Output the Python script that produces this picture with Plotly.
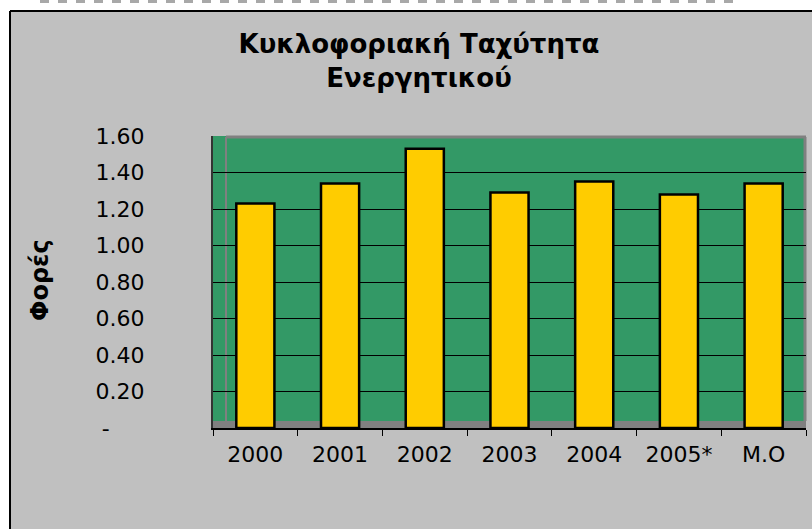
import plotly.graph_objects as go

# ---- data ----
categories = ["2000", "2001", "2002", "2003", "2004", "2005*", "M.O"]
values = [1.23, 1.34, 1.53, 1.29, 1.35, 1.28, 1.34]
y_tick_vals = [0, 0.2, 0.4, 0.6, 0.8, 1.0, 1.2, 1.4, 1.6]
y_tick_text = ["-\u00a0\u00a0\u00a0\u00a0\u00a0", "0.20", "0.40", "0.60", "0.80", "1.00", "1.20", "1.40", "1.60"]
title_text = "Κυκλοφοριακή Ταχύτητα<br>Ενεργητικού"
y_title = "Φορές"

W, H = 812, 529
X0, X1, Y0, Y1 = 213, 806, 136, 428  # plot box in pixels


def px(x):
    return (x - X0) / (X1 - X0)


def py(y):
    return (Y1 - y) / (Y1 - Y0)


FONT = "DejaVu Sans"
GRAY_BG = "#c0c0c0"
GREEN = "#339966"
YELLOW = "#ffcc00"
WALL = "#808080"

fig = go.Figure()
fig.add_trace(go.Bar(
    x=categories, y=values,
    width=0.45,
    marker=dict(color=YELLOW, line=dict(color="black", width=2.5)),
    hoverinfo="x+y",
))

shapes = [
    # white strips outside the chart frame
    dict(type="rect", xref="paper", yref="paper", x0=px(-5), x1=px(830), y0=py(11), y1=py(-5),
         fillcolor="white", line=dict(width=0), layer="below"),
    dict(type="rect", xref="paper", yref="paper", x0=px(-5), x1=px(10), y0=py(540), y1=py(-5),
         fillcolor="white", line=dict(width=0), layer="below"),
    # remnant dashes at very top
    dict(type="line", xref="paper", yref="paper", x0=px(40), x1=px(740), y0=py(1.5), y1=py(1.5),
         line=dict(color="#a8a8a8", width=3, dash="dash"), layer="above"),
    # chart frame
    dict(type="line", xref="paper", yref="paper", x0=px(10), x1=px(10), y0=py(540), y1=py(11),
         line=dict(color="black", width=2), layer="above"),
    dict(type="line", xref="paper", yref="paper", x0=px(10), x1=px(830), y0=py(11), y1=py(11),
         line=dict(color="black", width=2), layer="above"),
    # floor of the 3D plot
    dict(type="rect", xref="paper", yref="paper", x0=0, x1=1, y0=0, y1=py(421),
         fillcolor=WALL, line=dict(width=0), layer="below"),
    # back wall edges
    dict(type="line", xref="paper", yref="paper", x0=px(226), x1=px(226), y0=py(421), y1=py(137),
         line=dict(color=WALL, width=2), layer="below"),
    dict(type="line", xref="paper", yref="paper", x0=px(226), x1=1, y0=py(137), y1=py(137),
         line=dict(color=WALL, width=3), layer="below"),
    dict(type="line", xref="paper", yref="paper", x0=px(805), x1=px(805), y0=py(421), y1=py(137),
         line=dict(color=WALL, width=3), layer="below"),
]

fig.update_layout(
    width=W, height=H,
    margin=dict(l=X0, r=W - X1, t=Y0, b=H - Y1, pad=0),
    paper_bgcolor=GRAY_BG,
    plot_bgcolor=GREEN,
    showlegend=False,
    bargap=0.55,
    font=dict(family=FONT, color="black", size=22),
    title=dict(
        text=title_text,
        font=dict(family=FONT, size=26, color="black", weight="bold"),
        xref="container", yref="container",
        x=419 / W, xanchor="center",
        y=1 - 53 / H, yanchor="middle",
    ),
    xaxis=dict(
        type="category",
        showline=True, linecolor="black", linewidth=1.5,
        ticks="outside", ticklen=6, tickcolor="black", tickwidth=1,
        tickson="boundaries",
        showgrid=False,
        tickfont=dict(family=FONT, size=22, color="black"),
        ticklabelstandoff=6,
        fixedrange=True,
    ),
    yaxis=dict(
        range=[0, 1.6],
        tickvals=y_tick_vals, ticktext=y_tick_text,
        showgrid=True, gridcolor="black", gridwidth=1,
        zeroline=False,
        showline=True, linecolor="#333333", linewidth=2,
        ticks="",
        tickfont=dict(family=FONT, size=22, color="black"),
        ticklabelstandoff=62,
        fixedrange=True,
    ),
    shapes=shapes,
    annotations=[
        dict(text="<b>" + y_title + "</b>", textangle=-90,
             xref="paper", yref="paper", x=px(40), y=py(280),
             xanchor="center", yanchor="middle", showarrow=False,
             font=dict(family=FONT, size=24, color="black")),
    ],
)

fig.write_html("out.html")
